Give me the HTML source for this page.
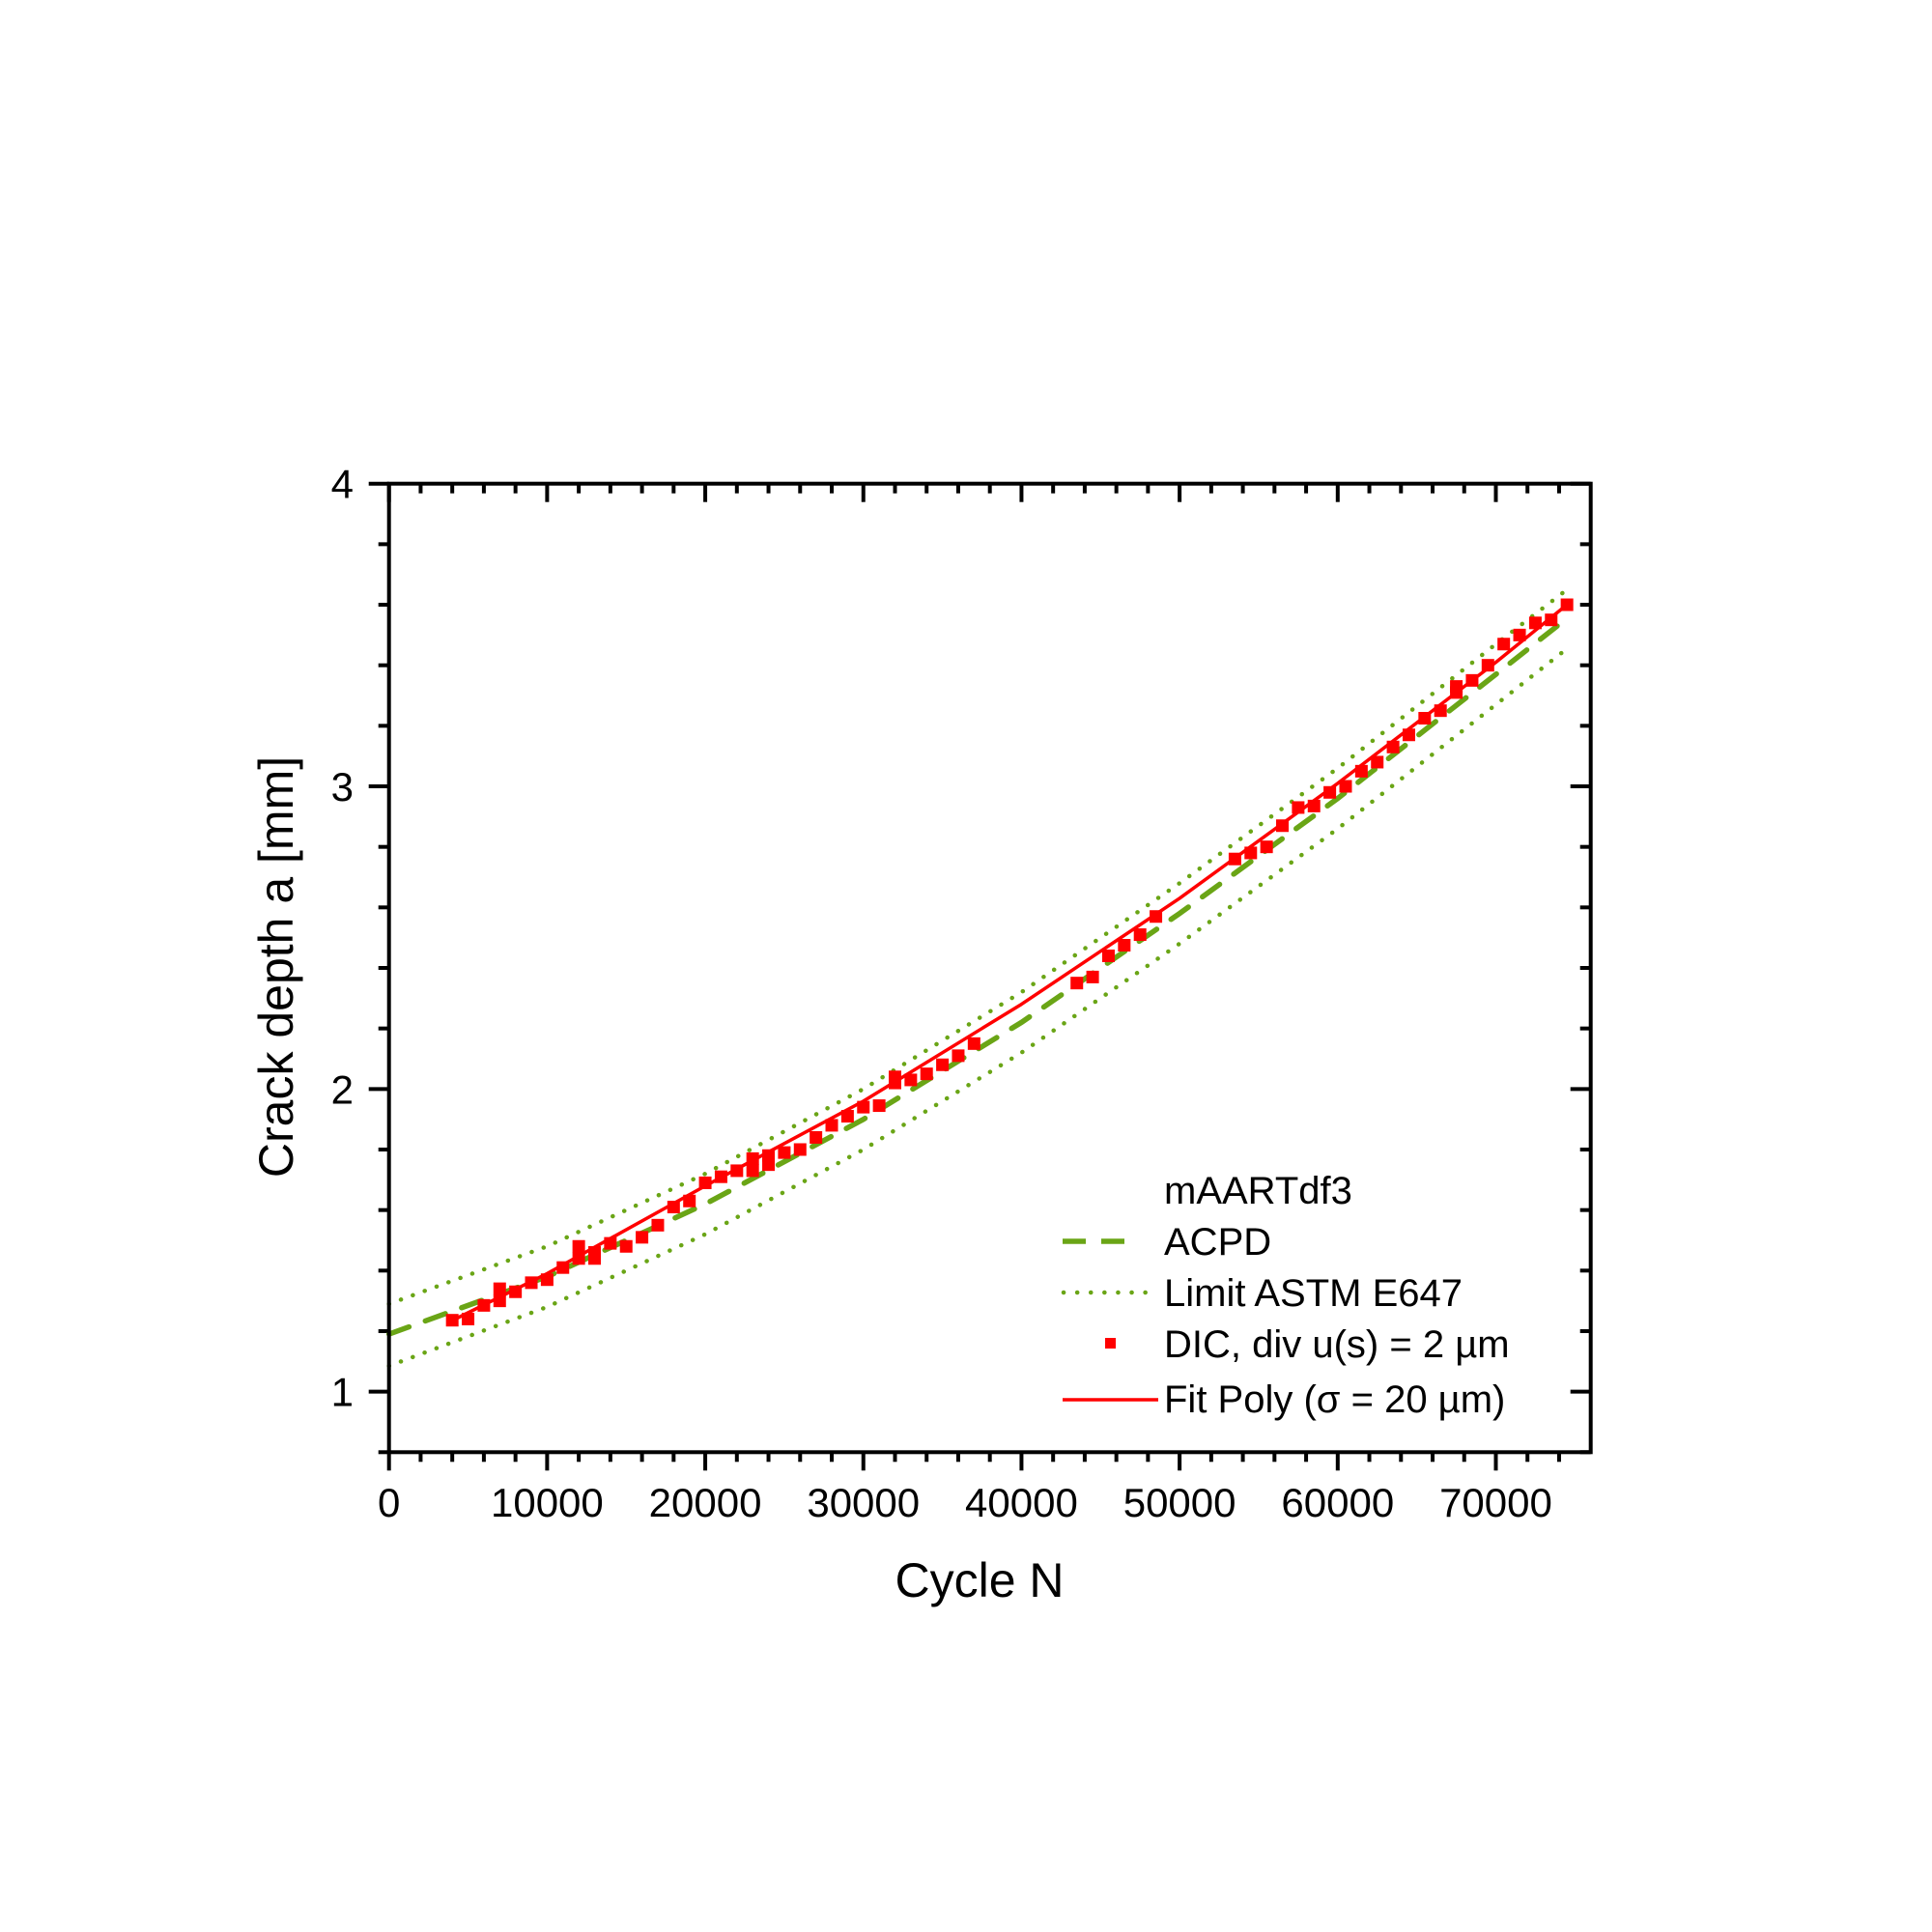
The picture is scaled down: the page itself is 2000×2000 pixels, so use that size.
<!DOCTYPE html>
<html><head><meta charset="utf-8"><style>
html,body{margin:0;padding:0;background:#fff;}
svg{display:block;font-family:"Liberation Sans",Arial,sans-serif;}
</style></head><body>
<svg id="chart" width="2000" height="2000" viewBox="0 0 2000 2000" xmlns="http://www.w3.org/2000/svg">
<rect width="2000" height="2000" fill="#fff"/>
<g id="ticks"></g>
<g id="series"></g>
<rect x="402.7" y="500.7" width="1244" height="1002.6" fill="none" stroke="#000" stroke-width="4"/>
<text x="1014" y="1653" font-size="50" text-anchor="middle">Cycle N</text>
<text x="0" y="0" font-size="50" text-anchor="middle" transform="translate(303,1001) rotate(-90)">Crack depth a [mm]</text>
<g font-size="40">
<text x="1205" y="1246">mAARTdf3</text>
<line x1="1100" y1="1285" x2="1175" y2="1285" stroke="#6aa516" stroke-width="5.5" stroke-dasharray="24 16"/>
<text x="1205" y="1299">ACPD</text>
<line x1="1101" y1="1338" x2="1190" y2="1338" stroke="#6aa516" stroke-width="4.5" stroke-linecap="round" stroke-dasharray="0.1 14"/>
<text x="1205" y="1352">Limit ASTM E647</text>
<rect x="1144" y="1385" width="11" height="11" fill="#ff0000"/>
<text x="1205" y="1405">DIC, div u(s) = 2 µm</text>
<line x1="1100" y1="1449" x2="1199" y2="1449" stroke="#ff0000" stroke-width="3.5"/>
<text x="1205" y="1462">Fit Poly (σ = 20 µm)</text>
</g>
</svg>
<script>
const xTickValues = [0,10000,20000,30000,40000,50000,60000,70000];
const xTickLabels = ["0","10000","20000","30000","40000","50000","60000","70000"];
const yTickValues = [1,2,3,4];
const yTickLabels = ["1","2","3","4"];
const acpdX = [0,10000,20000,30000,40000,50000,60000,70000,74500];
const acpdY = [1.19,1.38,1.62,1.90,2.22,2.58,2.96,3.37,3.555];
const upperY = [1.29,1.48,1.72,2.00,2.32,2.68,3.06,3.47,3.65];
const lowerY = [1.085,1.28,1.52,1.80,2.12,2.48,2.86,3.27,3.455];
const fitX = [4000,10000,20000,30000,40000,50000,60000,70000,74500];
const fitY = [1.235,1.39,1.68,1.96,2.28,2.63,3.01,3.41,3.60];
const dicX = [4000,5000,6000,7000,7000,8000,9000,10000,11000,12000,12000,13000,13000,14000,15000,16000,17000,18000,19000,20000,21000,22000,23000,23000,24000,24000,25000,26000,27000,28000,29000,30000,31000,32000,32000,33000,34000,35000,36000,37000,
43500,44500,45500,46500,47500,48500,53500,54500,55500,56500,57500,58500,59500,60500,61500,62500,63500,64500,65500,66500,67500,67500,68500,69500,70500,71500,72500,73500,74500];
const dicY = [1.236,1.24,1.285,1.34,1.30,1.33,1.36,1.37,1.41,1.48,1.44,1.46,1.44,1.49,1.48,1.51,1.55,1.61,1.63,1.69,1.71,1.73,1.77,1.73,1.78,1.75,1.79,1.80,1.84,1.88,1.91,1.94,1.945,2.02,2.04,2.03,2.05,2.08,2.11,2.15,
2.35,2.37,2.44,2.475,2.51,2.57,2.76,2.78,2.80,2.87,2.93,2.935,2.98,3.00,3.05,3.08,3.13,3.17,3.225,3.25,3.31,3.33,3.35,3.40,3.47,3.50,3.54,3.55,3.60];

const X0=402.7, X1=1646.7, Y0=1503.3, Y1=500.7, XMIN=0, XMAX=76000, YMIN=0.8, YMAX=4;
function sx(v){return X0+(v-XMIN)/(XMAX-XMIN)*(X1-X0);}
function sy(v){return Y0-(v-YMIN)/(YMAX-YMIN)*(Y0-Y1);}
const NS="http://www.w3.org/2000/svg";
function mk(tag,attrs,parent){const e=document.createElementNS(NS,tag);for(const k in attrs)e.setAttribute(k,attrs[k]);parent.appendChild(e);return e;}
const tg=document.getElementById('ticks'), sg=document.getElementById('series');

// minor ticks
for(let v=2000; v<XMAX; v+=2000){
  if(v%10000===0) continue;
  const x=sx(v);
  const a=mk('line',{x1:x,y1:Y0,x2:x,y2:Y0+10,stroke:'#000','stroke-width':4},tg);
  
  
  const b=mk('line',{x1:x,y1:Y1,x2:x,y2:Y1+10,stroke:'#000','stroke-width':4},tg);
  
  
}
for(let i=0;i<16;i++){
  const v=0.8+0.2*i;
  if(Math.abs(v-Math.round(v))<1e-6) continue;
  const y=sy(v);
  const a=mk('line',{x1:X0-11,y1:y,x2:X0,y2:y,stroke:'#000','stroke-width':4},tg);
  
  
  const b=mk('line',{x1:X1-11,y1:y,x2:X1,y2:y,stroke:'#000','stroke-width':4},tg);
  
  
}
xTickValues.forEach((v,i)=>{
  const x=sx(v);
  const a=mk('line',{x1:x,y1:Y0,x2:x,y2:Y0+19,stroke:'#000','stroke-width':4},tg);
  
  
  const b=mk('line',{x1:x,y1:Y1,x2:x,y2:Y1+19,stroke:'#000','stroke-width':4},tg);
  
  
  const t=mk('text',{x:x,y:1570,'font-size':42,'text-anchor':'middle'},tg);
  t.textContent=xTickLabels[i];
  
  
});
yTickValues.forEach((v,i)=>{
  const y=sy(v);
  const a=mk('line',{x1:X0-21,y1:y,x2:X0,y2:y,stroke:'#000','stroke-width':4},tg);
  
  
  const b=mk('line',{x1:X1-21,y1:y,x2:X1,y2:y,stroke:'#000','stroke-width':4},tg);
  
  
  const t=mk('text',{x:366,y:y+15,'font-size':42,'text-anchor':'end'},tg);
  t.textContent=yTickLabels[i];
  
  
});

function pts(xs,ys){return xs.map((x,i)=>sx(x).toFixed(1)+','+sy(ys[i]).toFixed(1)).join(' ');}
const up=mk('polyline',{points:pts(acpdX,upperY),fill:'none',stroke:'#6aa516','stroke-width':4.5,'stroke-linecap':'round','stroke-dasharray':'0.1 13'},sg);


const lo=mk('polyline',{points:pts(acpdX,lowerY),fill:'none',stroke:'#6aa516','stroke-width':4.5,'stroke-linecap':'round','stroke-dasharray':'0.1 13'},sg);


const ac=mk('polyline',{points:pts(acpdX,acpdY),fill:'none',stroke:'#6aa516','stroke-width':5.5,'stroke-linecap':'round','stroke-dasharray':'22 18'},sg);


dicX.forEach((x,i)=>{
  const r=mk('rect',{x:sx(x)-6.5,y:sy(dicY[i])-6.5,width:13,height:13,fill:'#ff0000'},sg);
  
  
});
const fit=mk('polyline',{points:pts(fitX,fitY),fill:'none',stroke:'#ff0000','stroke-width':3.5,'stroke-linejoin':'round'},sg);


</script>
</body></html>
